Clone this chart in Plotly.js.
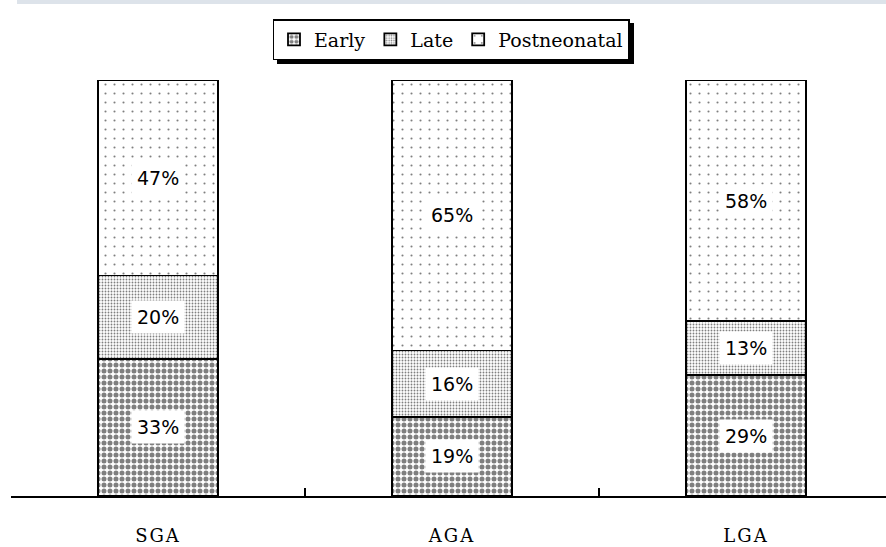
<!DOCTYPE html>
<html>
<head>
<meta charset="utf-8">
<script src="https://cdn.plot.ly/plotly-3.0.1.min.js"></script>
<style>
  html, body { margin: 0; padding: 0; background: #fff; overflow: hidden; }
  #chart { width: 886px; height: 547px; }
  .legend .bg { filter: drop-shadow(4px 4px 0 #000); }
  .xtick text { letter-spacing: 2px; }
</style>
</head>
<body>
<div id="chart"></div>
<script>
// ---- data ----
const categories = ['SGA', 'AGA', 'LGA'];
const seriesNames = ['Early', 'Late', 'Postneonatal'];
const early = [33, 19, 29];
const late = [20, 16, 13];
const postneonatal = [47, 65, 58];
const pctLabels = [
  ['33%', '19%', '29%'],
  ['20%', '16%', '13%'],
  ['47%', '65%', '58%']
];

// ---- styles ----
const patterns = [
  { shape: '.', size: 6, solidity: 0.55, fgcolor: '#000', bgcolor: '#fff', fillmode: 'overlay' },
  { shape: '.', size: 3, solidity: 0.3, fgcolor: '#000', bgcolor: '#fff', fillmode: 'overlay' },
  { shape: '.', size: 9, solidity: 0.045, fgcolor: '#000', bgcolor: '#fff', fillmode: 'overlay' }
];
const seriesValues = [early, late, postneonatal];

const traces = seriesValues.map((vals, i) => ({
  type: 'bar',
  name: seriesNames[i],
  x: categories,
  y: vals,
  width: 0.41,
  marker: { color: '#fff', pattern: patterns[i], line: { color: '#000', width: 1.8 } },
  hoverinfo: 'skip'
}));

// labels centred in each stacked segment
const annotations = [];
const base = categories.map(() => 0);
seriesValues.forEach((vals, i) => {
  vals.forEach((v, j) => {
    annotations.push({
      x: categories[j], y: base[j] + v / 2, xref: 'x', yref: 'y',
      text: pctLabels[i][j], showarrow: false,
      font: { family: 'DejaVu Sans', size: 19, color: '#000' },
      bgcolor: '#fff', borderpad: 5
    });
    base[j] += v;
  });
});

const W = 886, H = 547, ml = 11, mr = 0, mt = 80, mb = 51;
const pw = W - ml - mr, ph = H - mt - mb;
const catPx = 294;
const px2x = px => (px - ml) / pw;
const py2y = py => (H - mb - py) / ph;

const layout = {
  width: W, height: H,
  margin: { l: ml, r: mr, t: mt, b: mb, pad: 0 },
  paper_bgcolor: '#fff', plot_bgcolor: '#fff',
  barmode: 'stack',
  showlegend: true,
  legend: {
    orientation: 'h', x: px2x(451), xanchor: 'center', y: py2y(19), yanchor: 'top',
    bgcolor: '#fff', bordercolor: '#000', borderwidth: 1.5,
    font: { family: 'DejaVu Serif', size: 19, color: '#000' },
    traceorder: 'normal', itemwidth: 30, tracegroupgap: 0
  },
  xaxis: {
    type: 'category',
    range: [-0.5, -0.5 + pw / catPx],
    showline: true, linecolor: '#000', linewidth: 2,
    ticks: 'inside', ticklen: 8, tickwidth: 2, tickcolor: '#000',
    tickson: 'boundaries',
    showgrid: false, zeroline: false,
    tickfont: { family: 'DejaVu Serif', size: 18, color: '#000' },
    ticklabelstandoff: 22,
    fixedrange: true
  },
  yaxis: { range: [0, 100], visible: false, fixedrange: true },
  annotations: annotations,
  shapes: [
    { type: 'line', xref: 'paper', yref: 'paper', x0: px2x(17), x1: 1.0, y0: py2y(2), y1: py2y(2),
      line: { color: '#dde3ea', width: 4 } }
  ]
};

Plotly.newPlot('chart', traces, layout, { displayModeBar: false, staticPlot: true });
</script>
</body>
</html>
